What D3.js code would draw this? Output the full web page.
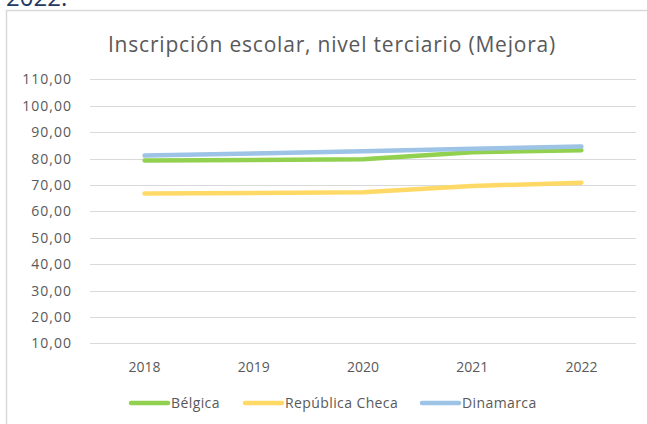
<!DOCTYPE html>
<html>
<head>
<meta charset="utf-8">
<script src="https://cdn.jsdelivr.net/npm/d3@7"></script>
<style>
  body { margin: 0; background: #fff; }
  svg { display: block; }
</style>
</head>
<body>
<div id="chart"></div>
<script>
// data
const years = ["2018", "2019", "2020", "2021", "2022"];
const belgica = [79.2, 79.4, 79.7, 82.4, 83.1];
const republicaCheca = [66.7, 66.9, 67.2, 69.6, 70.8];
const dinamarca = [81.1, 81.9, 82.7, 83.7, 84.5];
const yTicks = [10, 20, 30, 40, 50, 60, 70, 80, 90, 100, 110];

const series = [
  { name: "Bélgica", values: belgica, color: "#92d050" },
  { name: "República Checa", values: republicaCheca, color: "#ffd966" },
  { name: "Dinamarca", values: dinamarca, color: "#9dc3e6" }
];

const W = 647, H = 424;
const font = "'Open Sans', sans-serif";

const svg = d3.select("#chart").append("svg")
  .attr("width", W)
  .attr("height", H);

// piece of the document heading above the chart box
svg.append("text")
  .attr("x", 6)
  .attr("y", 6)
  .style("font-family", font)
  .style("font-size", "24px")
  .style("fill", "#1f3864")
  .text("2022.");

// chart frame
svg.append("rect")
  .attr("x", 6.5)
  .attr("y", 10.5)
  .attr("width", 660)
  .attr("height", 430)
  .attr("fill", "#fff")
  .attr("stroke", "#d9d9d9")
  .attr("stroke-width", 1.5);

// title
svg.append("text")
  .attr("x", 332)
  .attr("y", 52)
  .attr("text-anchor", "middle")
  .style("font-family", font)
  .style("font-size", "21px")
  .style("letter-spacing", "0.8px")
  .style("fill", "#595959")
  .text("Inscripción escolar, nivel terciario (Mejora)");

const plotLeft = 90, plotRight = 636, plotTop = 79.3, plotBottom = 343.3;

const x = d3.scalePoint()
  .domain(years)
  .range([plotLeft, plotRight])
  .padding(0.5);

const y = d3.scaleLinear()
  .domain([10, 110])
  .range([plotBottom, plotTop]);

// gridlines
svg.append("g")
  .selectAll("line")
  .data(yTicks)
  .enter().append("line")
  .attr("x1", plotLeft)
  .attr("x2", plotRight)
  .attr("y1", d => Math.round(y(d)) + 0.5)
  .attr("y2", d => Math.round(y(d)) + 0.5)
  .attr("stroke", "#d9d9d9")
  .attr("stroke-width", 1.2);

// y labels
const fmt = d => d.toFixed(2).replace(".", ",");
svg.append("g")
  .selectAll("text")
  .data(yTicks)
  .enter().append("text")
  .attr("x", 72)
  .attr("y", d => y(d) + 5)
  .attr("text-anchor", "end")
  .style("font-family", font)
  .style("font-size", "14px")
  .style("letter-spacing", "1px")
  .style("fill", "#595959")
  .text(fmt);

// x labels
svg.append("g")
  .selectAll("text")
  .data(years)
  .enter().append("text")
  .attr("x", d => x(d))
  .attr("y", 372)
  .attr("text-anchor", "middle")
  .style("font-family", font)
  .style("font-size", "14px")
  .style("fill", "#595959")
  .text(d => d);

// lines
const line = d3.line()
  .x((d, i) => x(years[i]))
  .y(d => y(d));

svg.append("g")
  .selectAll("path")
  .data(series)
  .enter().append("path")
  .attr("d", d => line(d.values))
  .attr("fill", "none")
  .attr("stroke", d => d.color)
  .attr("stroke-width", 4.5)
  .attr("stroke-linecap", "round")
  .attr("stroke-linejoin", "round");

// legend
const legendX = [130, 244, 421];
const legend = svg.append("g")
  .selectAll("g")
  .data(series)
  .enter().append("g")
  .attr("transform", (d, i) => `translate(${legendX[i]},403)`);

legend.append("line")
  .attr("x1", 1)
  .attr("x2", 38)
  .attr("stroke", d => d.color)
  .attr("stroke-width", 4.5)
  .attr("stroke-linecap", "round");

legend.append("text")
  .attr("x", 41)
  .attr("y", 5)
  .style("font-family", font)
  .style("font-size", "14px")
  .style("letter-spacing", "0.4px")
  .style("fill", "#595959")
  .text(d => d.name);
</script>
</body>
</html>
